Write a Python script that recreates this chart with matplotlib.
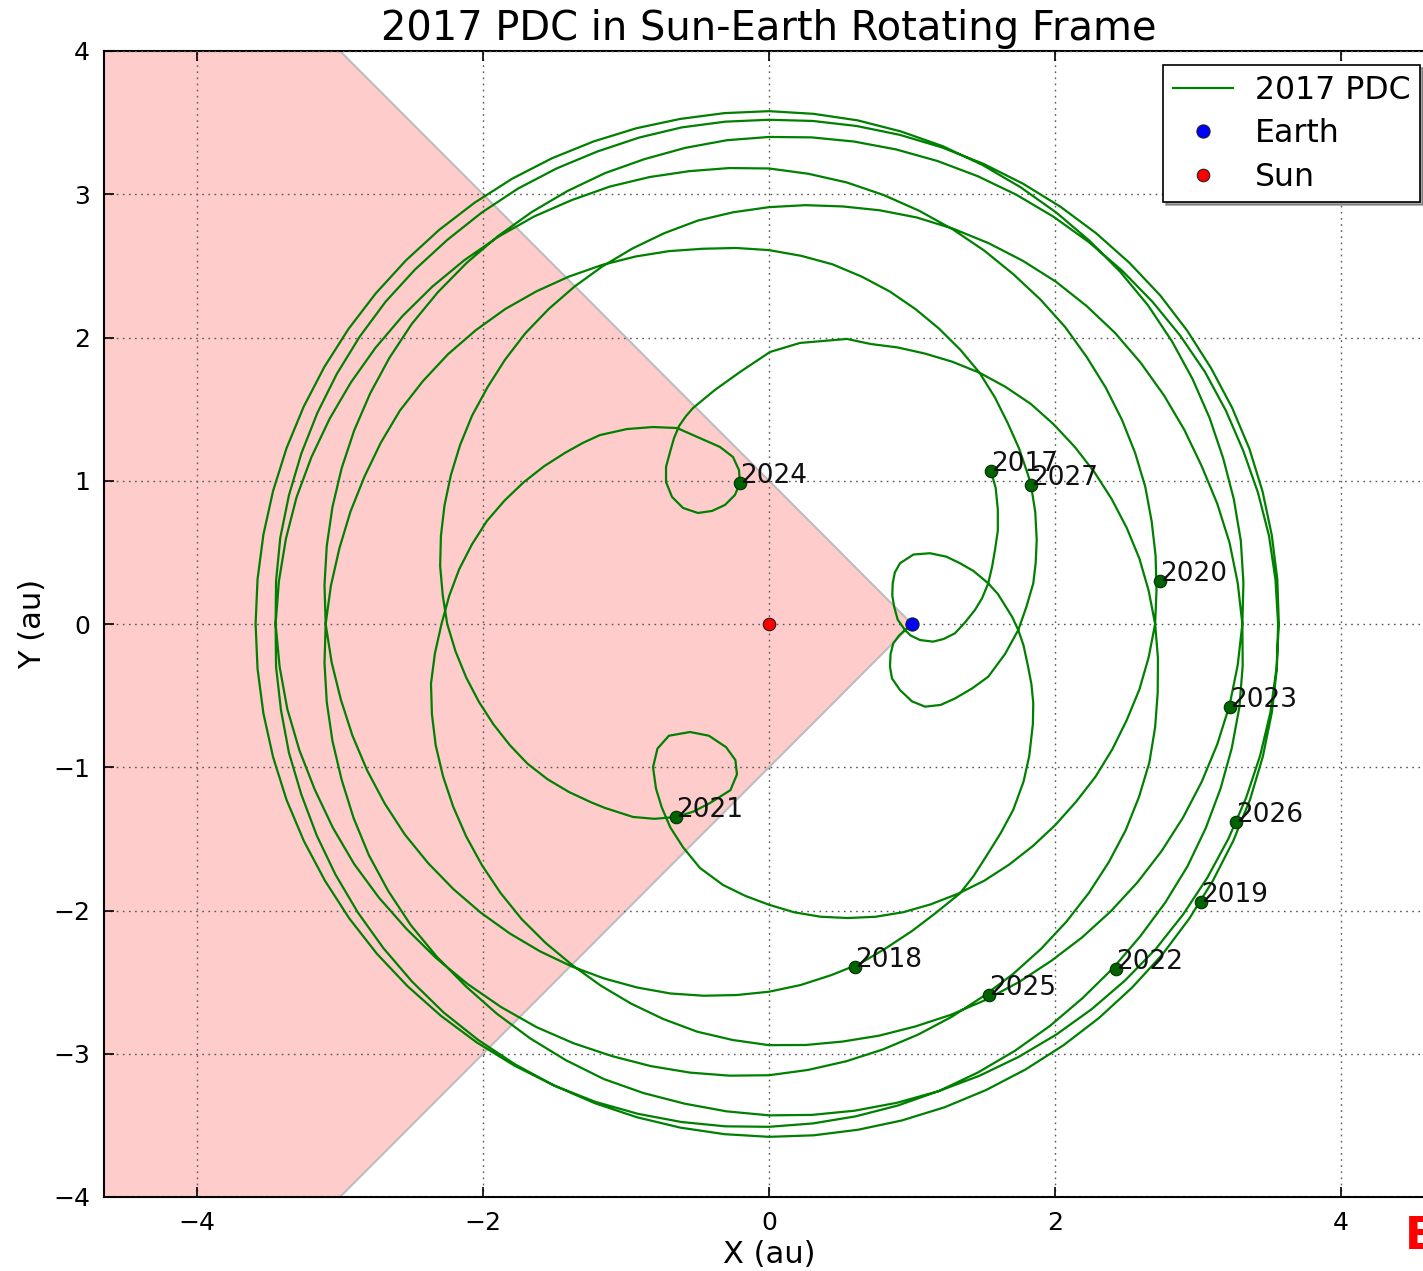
import numpy as np
import matplotlib
matplotlib.use("Agg")
import matplotlib.pyplot as plt
from matplotlib.patches import Polygon

# ---------------- data (au) ----------------
# near-Earth lobe at the start (2017)
heart1_x = [1.552, 1.585, 1.600, 1.600, 1.58, 1.56, 1.533, 1.49, 1.44, 1.37, 1.30, 1.22, 1.147,
            1.056, 0.99, 0.951, 0.90, 0.875, 0.862, 0.865, 0.88, 0.916, 1.01, 1.126, 1.24, 1.336,
            1.43, 1.533, 1.60, 1.65, 1.70, 1.743, 1.78, 1.81, 1.835, 1.848, 1.845, 1.82, 1.78,
            1.708, 1.62, 1.52, 1.43, 1.336]
heart1_y = [1.068, 0.95, 0.80, 0.65, 0.516, 0.40, 0.284, 0.18, 0.098, 0.01, -0.065, -0.105, -0.123,
            -0.112, -0.08, -0.042, 0.03, 0.121, 0.20, 0.284, 0.36, 0.424, 0.485, 0.494, 0.47, 0.424,
            0.37, 0.284, 0.21, 0.13, 0.05, -0.042, -0.15, -0.29, -0.42, -0.554, -0.70, -0.92, -1.10,
            -1.297, -1.46, -1.62, -1.76, -1.88]

# big clockwise arcs: radius (au) read every 5 deg of rotating-frame angle
orbit1_start_deg = -60
orbit1_r = [2.33, 2.365, 2.405, 2.455, 2.49, 2.53, 2.567, 2.60, 2.635, 2.67,
            2.70, 2.73, 2.76, 2.79, 2.82, 2.85, 2.88, 2.91, 2.94, 2.965,
            2.99, 3.015, 3.04, 3.07, 3.10, 3.12, 3.14, 3.16, 3.18, 3.20,
            3.22, 3.24, 3.26, 3.275, 3.29, 3.305, 3.32, 3.335, 3.35, 3.36,
            3.375, 3.39, 3.40, 3.41, 3.42, 3.43, 3.44, 3.45, 3.46, 3.47,
            3.48, 3.49, 3.50, 3.51, 3.52, 3.525, 3.53, 3.54, 3.55, 3.555,
            3.56, 3.565, 3.57, 3.575, 3.58, 3.582, 3.584, 3.587, 3.59, 3.59,
            3.59, 3.59, 3.59, 3.59, 3.59, 3.588, 3.585, 3.583, 3.58, 3.575,
            3.57, 3.565, 3.56, 3.555, 3.55, 3.545, 3.54, 3.53, 3.52, 3.51,
            3.50, 3.49, 3.48, 3.475, 3.465, 3.46, 3.45, 3.44, 3.43, 3.42,
            3.405, 3.39, 3.375, 3.36, 3.345, 3.33, 3.315, 3.30, 3.285, 3.265,
            3.25, 3.23, 3.21, 3.195, 3.18, 3.155, 3.13, 3.10, 3.07, 3.04,
            3.01, 2.98, 2.955, 2.93, 2.90, 2.875, 2.85, 2.825, 2.80, 2.77,
            2.745, 2.72, 2.70, 2.665, 2.63, 2.59, 2.555, 2.52, 2.48, 2.445,
            2.41, 2.375, 2.34, 2.30, 2.26, 2.22, 2.175, 2.125, 2.075, 2.02,
            1.96, 1.905, 1.85]

loop2021_x = [-0.483, -0.60, -0.69, -0.75, -0.79, -0.811, -0.78, -0.70, -0.552, -0.42, -0.30,
              -0.235, -0.224, -0.27, -0.413, -0.53, -0.65, -0.80, -0.951, -1.147]
loop2021_y = [-1.703, -1.56, -1.42, -1.28, -1.15, -1.0, -0.87, -0.78, -0.754, -0.78, -0.86,
              -0.95, -1.05, -1.16, -1.25, -1.31, -1.347, -1.36, -1.347, -1.284]

orbit2_start_deg = -135
orbit2_r = [1.76, 1.825, 1.89, 1.95, 2.00, 2.05, 2.10, 2.15, 2.20, 2.25, 2.29,
            2.335, 2.375, 2.415, 2.455, 2.495, 2.535, 2.57, 2.61, 2.65, 2.685,
            2.72, 2.755, 2.79, 2.825, 2.86, 2.885, 2.91, 2.935, 2.96, 2.99,
            3.02, 3.045, 3.07, 3.095, 3.12, 3.14, 3.16, 3.175, 3.19, 3.205,
            3.22, 3.245, 3.27, 3.29, 3.31, 3.325, 3.34, 3.35, 3.36, 3.37,
            3.38, 3.385, 3.39, 3.40, 3.41, 3.425, 3.44, 3.455, 3.47, 3.48,
            3.49, 3.50, 3.51, 3.52, 3.53, 3.54, 3.55, 3.555, 3.56, 3.565,
            3.57, 3.575, 3.58, 3.583, 3.585, 3.588, 3.59, 3.59, 3.59, 3.59,
            3.59, 3.59, 3.59, 3.59, 3.59, 3.59, 3.59, 3.59, 3.59, 3.59,
            3.59, 3.59, 3.59, 3.588, 3.585, 3.583, 3.58, 3.58, 3.58, 3.575,
            3.57, 3.56, 3.55, 3.535, 3.52, 3.505, 3.49, 3.475, 3.46, 3.44,
            3.42, 3.40, 3.38, 3.365, 3.35, 3.33, 3.31, 3.29, 3.27, 3.245,
            3.22, 3.195, 3.17, 3.145, 3.12, 3.095, 3.07, 3.05, 3.03, 3.01,
            2.99, 2.975, 2.96, 2.95, 2.94, 2.915, 2.89, 2.855, 2.82, 2.785,
            2.75, 2.72, 2.69, 2.655, 2.62, 2.585, 2.55, 2.515, 2.48, 2.44,
            2.40, 2.345, 2.29, 2.245, 2.20, 2.15, 2.10, 2.04, 1.98, 1.92,
            1.86]

loop2024_x = [-1.30, -1.182, -0.993, -0.811, -0.643, -0.483, -0.343, -0.252, -0.210, -0.203,
              -0.238, -0.308, -0.399, -0.497, -0.601, -0.678, -0.720, -0.720, -0.692, -0.664,
              -0.629, -0.580, -0.531, -0.378, -0.203, 0.007, 0.217, 0.545]
loop2024_y = [1.265, 1.319, 1.361, 1.375, 1.368, 1.298, 1.236, 1.166, 1.075, 0.984,
              0.901, 0.831, 0.789, 0.775, 0.810, 0.887, 0.991, 1.096, 1.201, 1.298,
              1.382, 1.452, 1.508, 1.634, 1.759, 1.899, 1.962, 1.990]

orbit3_start_deg = 70
orbit3_r = [2.08, 2.13, 2.18, 2.235, 2.29, 2.34, 2.39, 2.43, 2.47, 2.51,
            2.55, 2.59, 2.63, 2.665, 2.70, 2.73, 2.76, 2.795, 2.83, 2.855,
            2.88, 2.90, 2.92, 2.94, 2.96, 2.98, 3.00, 3.025, 3.05, 3.075,
            3.10, 3.125, 3.15, 3.165, 3.18, 3.195, 3.21, 3.23, 3.25, 3.265,
            3.28, 3.295, 3.31, 3.33, 3.35, 3.365, 3.38, 3.40, 3.42, 3.435,
            3.45, 3.46, 3.47, 3.475, 3.48, 3.485, 3.49, 3.495, 3.50, 3.50,
            3.50, 3.505, 3.51, 3.51, 3.51, 3.515, 3.52, 3.52, 3.52, 3.525,
            3.53, 3.535, 3.54, 3.545, 3.55, 3.555, 3.56, 3.565, 3.57, 3.57,
            3.57, 3.573, 3.575, 3.573, 3.57, 3.568, 3.565, 3.562, 3.56, 3.555,
            3.55, 3.545, 3.54, 3.535, 3.53, 3.52, 3.51, 3.50, 3.49, 3.48,
            3.47, 3.46, 3.45, 3.44, 3.43, 3.415, 3.40, 3.39, 3.38, 3.36,
            3.34, 3.32, 3.30, 3.285, 3.27, 3.25, 3.23, 3.205, 3.18, 3.16,
            3.14, 3.12, 3.10, 3.075, 3.05, 3.03, 3.01, 2.995, 2.98, 2.955,
            2.93, 2.90, 2.87, 2.835, 2.80, 2.765, 2.73, 2.695, 2.66, 2.635,
            2.61, 2.58, 2.55, 2.51, 2.47, 2.425, 2.38, 2.335, 2.29, 2.235,
            2.18, 2.135, 2.09]

# near-Earth lobe at the end (2027)
heart2_x = [1.832, 1.862, 1.872, 1.865, 1.848, 1.80, 1.743, 1.65, 1.533, 1.42, 1.30, 1.20,
            1.091, 1.00, 0.916, 0.86, 0.846, 0.85, 0.869, 0.91, 0.951, 0.99]
heart2_y = [0.970, 0.78, 0.586, 0.43, 0.284, 0.12, -0.042, -0.21, -0.368, -0.45, -0.52, -0.565,
            -0.577, -0.54, -0.461, -0.38, -0.298, -0.21, -0.135, -0.08, -0.042, -0.01]

years = ['2017', '2018', '2019', '2020', '2021', '2022', '2023', '2024', '2025', '2026', '2027']
year_x = [1.552, 0.601, 3.021, 2.734, -0.650, 2.424, 3.224, -0.203, 1.541, 3.266, 1.832]
year_y = [1.068, -2.392, -1.938, 0.300, -1.345, -2.411, -0.582, 0.982, -2.590, -1.380, 0.970]

earth_xy = (1.0, 0.0)
sun_xy = (0.0, 0.0)
wedge_half_angle_deg = 45

x_ticks = [-4, -2, 0, 2, 4]
y_ticks = [-4, -3, -2, -1, 0, 1, 2, 3, 4]


def polar_arc(start_deg, radii, step_deg=5.0):
    r = np.asarray(radii, dtype=float)
    th = np.deg2rad(start_deg - step_deg * np.arange(len(r)))
    return list(r * np.cos(th)), list(r * np.sin(th))


a1x, a1y = polar_arc(orbit1_start_deg, orbit1_r)
a2x, a2y = polar_arc(orbit2_start_deg, orbit2_r)
a3x, a3y = polar_arc(orbit3_start_deg, orbit3_r)

traj_x = heart1_x + a1x + loop2021_x + a2x + loop2024_x + a3x + heart2_x
traj_y = heart1_y + a1y + loop2021_y + a2y + loop2024_y + a3y + heart2_y

# ---------------- figure ----------------
W, H = 1423, 1271
fig = plt.figure(figsize=(W / 100, H / 100), dpi=100, facecolor='white')
ax = fig.add_axes([104 / W, 74 / H, 1330 / W, 1146 / H])
ax.set_xlim(-4.65, 4.65)
ax.set_ylim(-4, 4)

# unobservable wedge (apex at Earth)
far = 8.0
t = np.deg2rad(wedge_half_angle_deg)
wedge = Polygon([earth_xy,
                 (earth_xy[0] - far, earth_xy[1] + far * np.tan(t)),
                 (earth_xy[0] - far, earth_xy[1] - far * np.tan(t))],
                closed=True, facecolor='#ffcccc', edgecolor='#bdbdbd', linewidth=1.5, zorder=0.5)
ax.add_patch(wedge)

ax.grid(True, color='0.35', linestyle=(0, (1.2, 3.2)), linewidth=1.0, zorder=1)
ax.set_axisbelow(False)

ax.plot(traj_x, traj_y, color='green', linewidth=1.6, label='2017 PDC', zorder=3,
        solid_joinstyle='round')
ax.plot(year_x, year_y, 'o', color='#006400', markeredgecolor='#003000',
        markersize=9, markeredgewidth=0.8, zorder=4)
for lab, x, y in zip(years, year_x, year_y):
    ax.text(x, y, lab, fontsize=19, color='#111111', zorder=5)

ax.plot([earth_xy[0]], [earth_xy[1]], 'o', color='blue', markeredgecolor='#202020',
        markersize=9.5, markeredgewidth=0.8, label='Earth', zorder=5)
ax.plot([sun_xy[0]], [sun_xy[1]], 'o', color='red', markeredgecolor='#202020',
        markersize=9, markeredgewidth=0.8, label='Sun', zorder=5)

ax.set_xticks(x_ticks)
ax.set_yticks(y_ticks)
ax.tick_params(direction='in', top=True, right=True, length=7, width=1.2,
               labelsize=18, pad=10)
for s in ax.spines.values():
    s.set_linewidth(1.5)

ax.set_title('2017 PDC in Sun-Earth Rotating Frame', fontsize=28.8, pad=8)
ax.set_xlabel('X (au)', fontsize=22, labelpad=4)
ax.set_ylabel('Y (au)', fontsize=22, labelpad=4)

leg = ax.legend(loc='upper right', fontsize=22.7, shadow=True, fancybox=False, numpoints=1,
                framealpha=1, edgecolor='black', borderaxespad=0.45, handlelength=1.9,
                handletextpad=0.7, labelspacing=0.40, borderpad=0.3)
leg.get_frame().set_linewidth(1.2)

fig.text(1405 / W, 22 / H, 'E', color='red', fontsize=32, fontweight='bold',
         ha='left', va='baseline')

fig.savefig('out.png', dpi=100, facecolor='white')
